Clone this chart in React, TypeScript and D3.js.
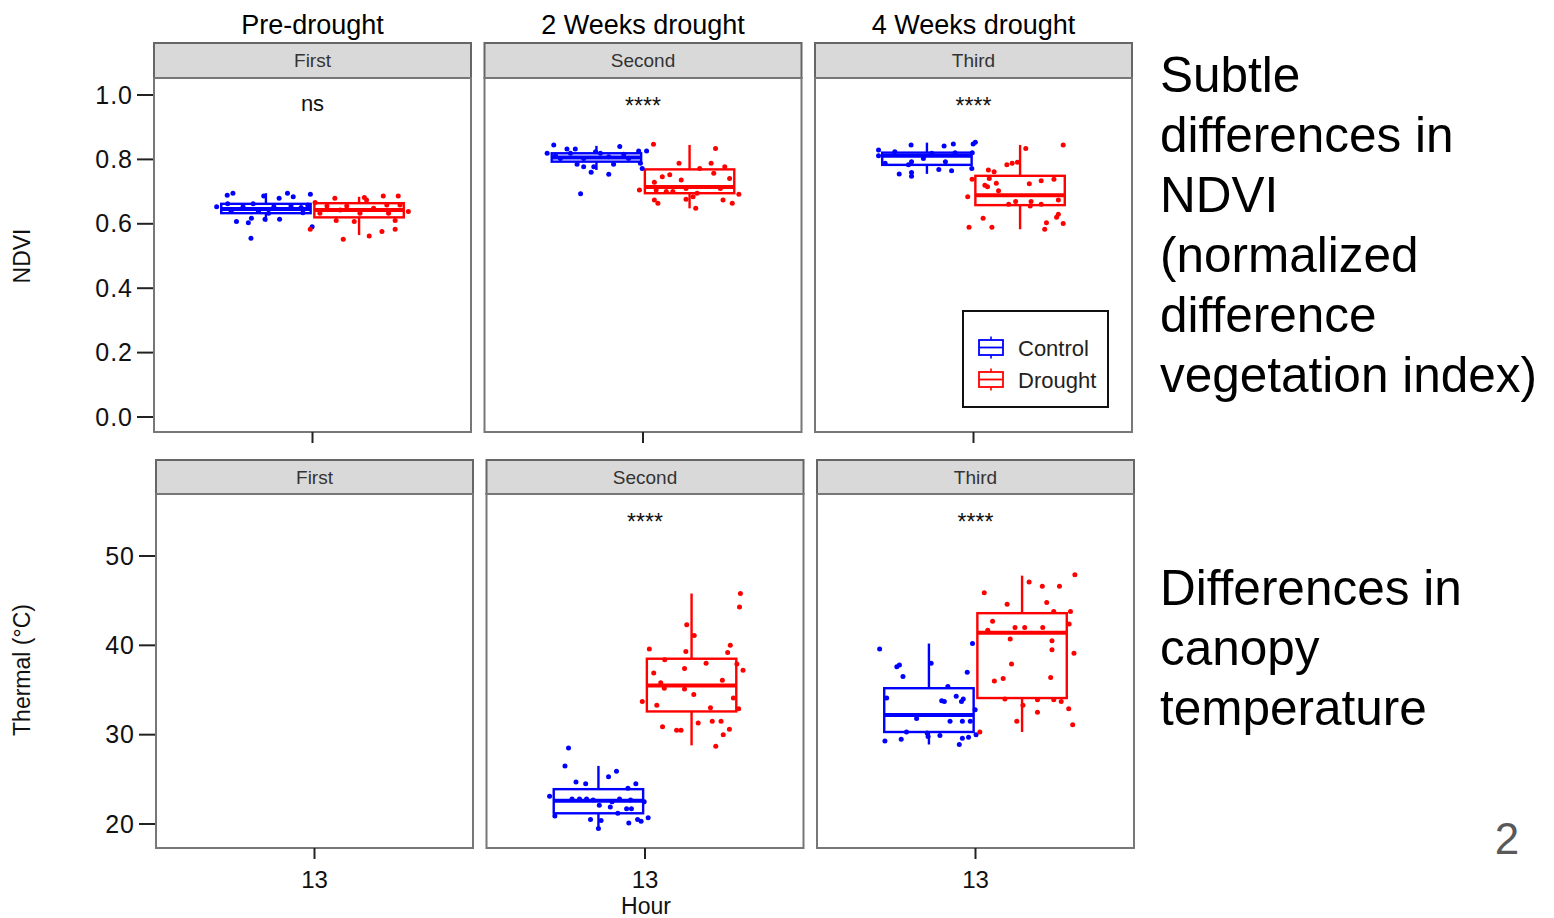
import React from "react";
import * as d3 from "d3";

// facet labels
const periods = ["Pre-drought", "2 Weeks drought", "4 Weeks drought"];
const stages = ["First", "Second", "Third"];
const groups = ["Control", "Drought"];
const hours = ["13"];

const ndviTicks = [0, 0.2, 0.4, 0.6, 0.8, 1.0];
const thermalTicks = [20, 30, 40, 50];

const ndviSignif = ["ns", "****", "****"];
const thermalSignif = ["", "****", "****"];

// box stats per stage: [lower whisker, q1, median, q3, upper whisker]
const ndviControlBox = [
  [0.607, 0.633, 0.646, 0.662, 0.695],
  [0.767, 0.793, 0.806, 0.819, 0.842],
  [0.755, 0.783, 0.811, 0.821, 0.852],
];
const ndviDroughtBox = [
  [0.565, 0.62, 0.643, 0.664, 0.684],
  [0.648, 0.695, 0.714, 0.769, 0.845],
  [0.583, 0.658, 0.689, 0.749, 0.845],
];
const thermalControlBox = [null, [19.5, 21.2, 22.6, 23.9, 26.5], [28.9, 30.3, 32.2, 35.2, 40.2]];
const thermalDroughtBox = [null, [28.8, 32.6, 35.5, 38.5, 45.8], [30.3, 34.1, 41.4, 43.6, 47.8]];

// jittered observations: [jitter (fraction of half box), value]
const ndviControlPts = [
  [[-0.88,0.689],[-0.75,0.695],[-1.12,0.653],[-0.05,0.686],[0.3,0.679],[0.49,0.695],[0.62,0.684],[1.01,0.692],[-0.67,0.607],[-0.4,0.603],[-0.33,0.617],[-0.02,0.614],[0.31,0.614],[-0.34,0.555],[1.05,0.591],[-0.29,0.662],[-0.52,0.653],[0.18,0.653],[0.57,0.655],[0.8,0.651],[-0.79,0.638],[-0.17,0.638],[0.84,0.634],[-0.87,0.662],[0.06,0.633],[0.95,0.658]],
  [[-0.97,0.845],[-1.12,0.819],[-0.67,0.832],[-0.48,0.832],[-0.02,0.824],[0.53,0.84],[0.96,0.826],[1.14,0.826],[-0.82,0.803],[-0.29,0.803],[0.28,0.808],[0.73,0.803],[-0.44,0.785],[-0.29,0.777],[-0.06,0.777],[0.39,0.785],[1.0,0.788],[-0.12,0.76],[0.28,0.754],[-0.36,0.693],[1.04,0.772],[-0.59,0.819],[0.09,0.819],[0.62,0.816],[-0.93,0.811]],
  [[-1.1,0.829],[-1.1,0.811],[-0.36,0.845],[0.39,0.842],[0.6,0.848],[1.05,0.848],[1.1,0.853],[1.03,0.821],[-0.08,0.803],[-0.35,0.793],[0.42,0.793],[-0.42,0.783],[0.27,0.769],[0.56,0.765],[-0.63,0.755],[-0.35,0.759],[-0.35,0.748],[1.02,0.772],[-0.73,0.824],[0.11,0.819],[0.64,0.821],[-0.95,0.788]],
];
const ndviDroughtPts = [
  [[-1.0,0.666],[-0.55,0.679],[0.12,0.682],[0.17,0.674],[0.55,0.686],[0.89,0.686],[1.12,0.638],[-0.52,0.61],[-0.11,0.607],[-0.36,0.552],[0.23,0.562],[0.52,0.576],[0.82,0.583],[0.82,0.61],[-1.11,0.583],[-0.73,0.655],[-0.28,0.655],[0.33,0.648],[0.63,0.658],[-0.89,0.633],[0.02,0.633],[0.67,0.633],[-0.43,0.643],[0.93,0.658]],
  [[-0.82,0.847],[0.59,0.834],[-0.24,0.788],[0.23,0.772],[0.49,0.788],[0.8,0.777],[0.55,0.757],[0.91,0.741],[-0.62,0.746],[-0.45,0.752],[-0.19,0.736],[-0.8,0.729],[-1.14,0.705],[-0.76,0.705],[-0.53,0.7],[-0.38,0.7],[-0.08,0.71],[0.17,0.695],[0.7,0.71],[1.12,0.692],[-0.8,0.674],[-0.72,0.664],[-0.08,0.676],[0.08,0.684],[0.14,0.648],[0.76,0.674],[0.97,0.664]],
  [[0.13,0.834],[0.98,0.845],[-0.3,0.783],[-0.18,0.788],[-0.06,0.791],[-1.09,0.738],[-0.72,0.767],[-0.59,0.762],[-0.7,0.741],[-0.8,0.72],[-0.74,0.715],[-0.54,0.726],[-0.49,0.703],[0.21,0.724],[0.48,0.734],[0.77,0.738],[-1.19,0.684],[-0.26,0.661],[-0.1,0.669],[0.25,0.669],[0.23,0.655],[0.48,0.661],[0.87,0.674],[-0.84,0.617],[-1.16,0.589],[-0.64,0.589],[0.56,0.583],[0.6,0.603],[0.83,0.62],[0.87,0.63],[0.98,0.601]],
];
const thermalControlPts = [
  [],
  [[-0.68,28.5],[-0.76,26.5],[-0.51,24.7],[-0.29,24.5],[0.23,25.3],[0.41,25.9],[0.85,24.5],[0.67,24.0],[-1.11,23.1],[-0.6,22.8],[-0.27,22.8],[0.02,22.1],[0.31,22.5],[0.48,22.8],[0.73,22.7],[1.04,22.5],[0.64,21.7],[0.75,21.7],[0.27,21.9],[-0.99,20.9],[-0.18,20.5],[0.06,20.4],[0.0,19.5],[0.44,21.2],[0.69,20.1],[0.89,20.5],[0.97,20.3],[1.13,20.7],[-0.43,22.8],[-0.12,22.7]],
  [[-1.12,39.6],[0.99,40.2],[-0.73,37.6],[-0.67,37.8],[-0.59,36.5],[0.05,38.0],[0.87,37.0],[-0.96,34.1],[0.43,35.4],[0.62,34.3],[0.78,34.0],[0.74,33.7],[0.29,33.8],[0.35,33.7],[1.05,32.8],[-0.28,31.8],[0.48,31.5],[0.76,31.5],[0.94,31.5],[-0.51,30.3],[-0.02,29.8],[0.25,29.9],[-1.0,29.3],[-0.63,29.5],[0.76,29.6],[0.9,29.7],[1.07,30.0],[0.69,28.9],[-0.04,30.2]],
];
const thermalDroughtPts = [
  [],
  [[1.11,45.8],[1.09,44.3],[-0.11,42.3],[0.06,41.1],[-0.96,39.6],[-0.13,39.3],[0.88,40.0],[0.82,39.2],[-0.61,38.4],[0.33,38.0],[1.03,37.9],[1.17,37.2],[-0.86,36.9],[-0.16,37.4],[0.7,36.1],[-0.7,35.8],[-0.62,35.2],[-0.16,35.1],[0.05,34.5],[-1.12,33.7],[0.95,34.1],[-0.79,33.3],[0.43,33.0],[1.07,32.9],[-0.66,30.9],[-0.34,30.5],[-0.24,30.5],[0.15,31.3],[0.47,31.5],[0.67,31.5],[0.86,30.6],[0.72,30.0],[0.55,28.7]],
  [[1.2,47.9],[0.16,47.1],[0.46,46.6],[0.85,46.6],[-0.86,45.9],[-0.34,44.6],[0.56,44.8],[0.72,43.8],[1.1,43.8],[1.07,42.4],[-0.67,42.7],[-0.78,41.7],[-0.16,42.0],[0.06,42.0],[0.47,42.0],[-0.27,40.7],[0.68,40.5],[0.68,39.5],[1.18,39.1],[-0.24,37.9],[-0.63,36.0],[-0.43,36.3],[0.65,36.4],[-0.39,34.0],[0.35,33.9],[0.72,33.9],[0.89,33.7],[0.02,33.3],[0.35,32.5],[1.06,32.9],[-0.12,31.5],[1.15,31.1],[-0.96,30.3]],
];

const ndviNote = ["Subtle", "differences in", "NDVI", "(normalized", "difference", "vegetation index)"];
const thermalNote = ["Differences in", "canopy", "temperature"];

const FONT = "'Liberation Sans', Arial, Helvetica, sans-serif";
const colors = { Control: "#0000ff", Drought: "#ff0000" };

const PW = 317; // panel width
const STEP = 330.5;

const rows = [
  {
    x0: 154, stripTop: 43, top: 78, bottom: 432,
    y: d3.scaleLinear().domain([0, 1]).range([417, 95]),
    ticks: ndviTicks, fmt: d3.format(".1f"), title: "NDVI", titleY: 256,
    boxes: [ndviControlBox, ndviDroughtBox], pts: [ndviControlPts, ndviDroughtPts], signif: ndviSignif,
  },
  {
    x0: 156, stripTop: 460, top: 494, bottom: 848,
    y: d3.scaleLinear().domain([20, 50]).range([824, 556]),
    ticks: thermalTicks, fmt: d3.format("d"), title: "Thermal (°C)", titleY: 670,
    boxes: [thermalControlBox, thermalDroughtBox], pts: [thermalControlPts, thermalDroughtPts], signif: thermalSignif,
  },
];

const xHour = d3.scaleBand().domain(hours).range([0, PW]);
const xGroup = d3.scaleBand().domain(groups).range([-95, 95]).padding(0.04);

function Panel({ row, col, ri }) {
  const px = row.x0 + col * STEP;
  const center = px + xHour("13") + xHour.bandwidth() / 2;
  const y = row.y;
  const bw = xGroup.bandwidth();
  return (
    <g>
      <rect x={px} y={row.stripTop} width={PW} height={row.top - row.stripTop} fill="#d9d9d9" stroke="#666" strokeWidth={2} />
      <text x={px + PW / 2} y={row.stripTop + 24} textAnchor="middle" fontSize={19} fill="#333" fontFamily={FONT}>{stages[col]}</text>
      <rect x={px} y={row.top} width={PW} height={row.bottom - row.top} fill="#fff" stroke="#777" strokeWidth={2} />
      {/* x tick */}
      <line x1={center} x2={center} y1={row.bottom} y2={row.bottom + 11} stroke="#222" strokeWidth={2} />
      {groups.map((g, gi) => {
        const b = row.boxes[gi][col];
        if (!b) return null;
        const cx = center + xGroup(g) + bw / 2;
        const c = colors[g];
        const [lo, q1, med, q3, hi] = b;
        return (
          <g key={g}>
            <line x1={cx} x2={cx} y1={y(hi)} y2={y(q3)} stroke={c} strokeWidth={2.4} />
            <line x1={cx} x2={cx} y1={y(q1)} y2={y(lo)} stroke={c} strokeWidth={2.4} />
            <rect x={cx - bw / 2} y={y(q3)} width={bw} height={y(q1) - y(q3)} fill="#fff" stroke={c} strokeWidth={2.4} />
            <line x1={cx - bw / 2} x2={cx + bw / 2} y1={y(med)} y2={y(med)} stroke={c} strokeWidth={4} />
          </g>
        );
      })}
      {groups.map((g, gi) => {
        const cx = center + xGroup(g) + bw / 2;
        return row.pts[gi][col].map((p, i) => (
          <circle key={g + i} cx={cx + p[0] * 44} cy={y(p[1])} r={2.5} fill={colors[g]} />
        ));
      })}
      {row.signif[col] && (
        <text x={center} y={row.top + (row.signif[col] === "ns" ? 33 : 36)} textAnchor="middle"
          fontSize={row.signif[col] === "ns" ? 22 : 23} fill="#111" fontFamily={FONT}>{row.signif[col]}</text>
      )}
      {ri === 0 && (
        <text x={center} y={34} textAnchor="middle" fontSize={27} fill="#000" fontFamily={FONT}>{periods[col]}</text>
      )}
      {ri === 1 && (
        <text x={center} y={888} textAnchor="middle" fontSize={24} fill="#111" fontFamily={FONT}>{hours[0]}</text>
      )}
    </g>
  );
}

function Legend() {
  const items = groups.map((g, i) => ({ g, cy: 347.5 + i * 32 }));
  return (
    <g>
      <rect x={963} y={311} width={145} height={96} fill="#fff" stroke="#111" strokeWidth={2} />
      {items.map(({ g, cy }) => (
        <g key={g}>
          <line x1={991} x2={991} y1={cy - 11} y2={cy + 11} stroke={colors[g]} strokeWidth={1.6} />
          <rect x={979} y={cy - 7.5} width={24} height={15} fill="#fff" stroke={colors[g]} strokeWidth={1.8} />
          <line x1={979} x2={1003} y1={cy} y2={cy} stroke={colors[g]} strokeWidth={1.8} />
          <text x={1018} y={cy + 8} fontSize={22} fill="#222" fontFamily={FONT}>{g}</text>
        </g>
      ))}
    </g>
  );
}

export default function App() {
  return (
    <svg width={1554} height={918} style={{ position: "absolute", left: 0, top: 0, background: "#fff" }}>
      <rect width={1554} height={918} fill="#fff" />
      {rows.map((row, ri) => (
        <g key={ri}>
          {row.ticks.map((t) => (
            <g key={t}>
              <line x1={row.x0 - 17} x2={row.x0} y1={row.y(t)} y2={row.y(t)} stroke="#222" strokeWidth={2} />
              <text x={row.x0 - 21} y={row.y(t) + 8.5} textAnchor="end" fontSize={25} letterSpacing={1} fill="#111" fontFamily={FONT}>{row.fmt(t)}</text>
            </g>
          ))}
          <text transform={`translate(30,${row.titleY}) rotate(-90)`} textAnchor="middle" fontSize={23} fill="#111" fontFamily={FONT}>{row.title}</text>
          {stages.map((s, col) => (
            <Panel key={s} row={row} col={col} ri={ri} />
          ))}
        </g>
      ))}
      <Legend />
      <text x={646} y={914} textAnchor="middle" fontSize={23} fill="#111" fontFamily={FONT}>Hour</text>
      {ndviNote.map((l, i) => (
        <text key={l} x={1160} y={92 + i * 60} fontSize={49.5} fill="#000" fontFamily={FONT}>{l}</text>
      ))}
      {thermalNote.map((l, i) => (
        <text key={l} x={1160} y={605 + i * 60} fontSize={49.5} fill="#000" fontFamily={FONT}>{l}</text>
      ))}
      <text x={1507} y={854} textAnchor="middle" fontSize={44} fill="#595959" fontFamily={FONT}>2</text>
    </svg>
  );
}
